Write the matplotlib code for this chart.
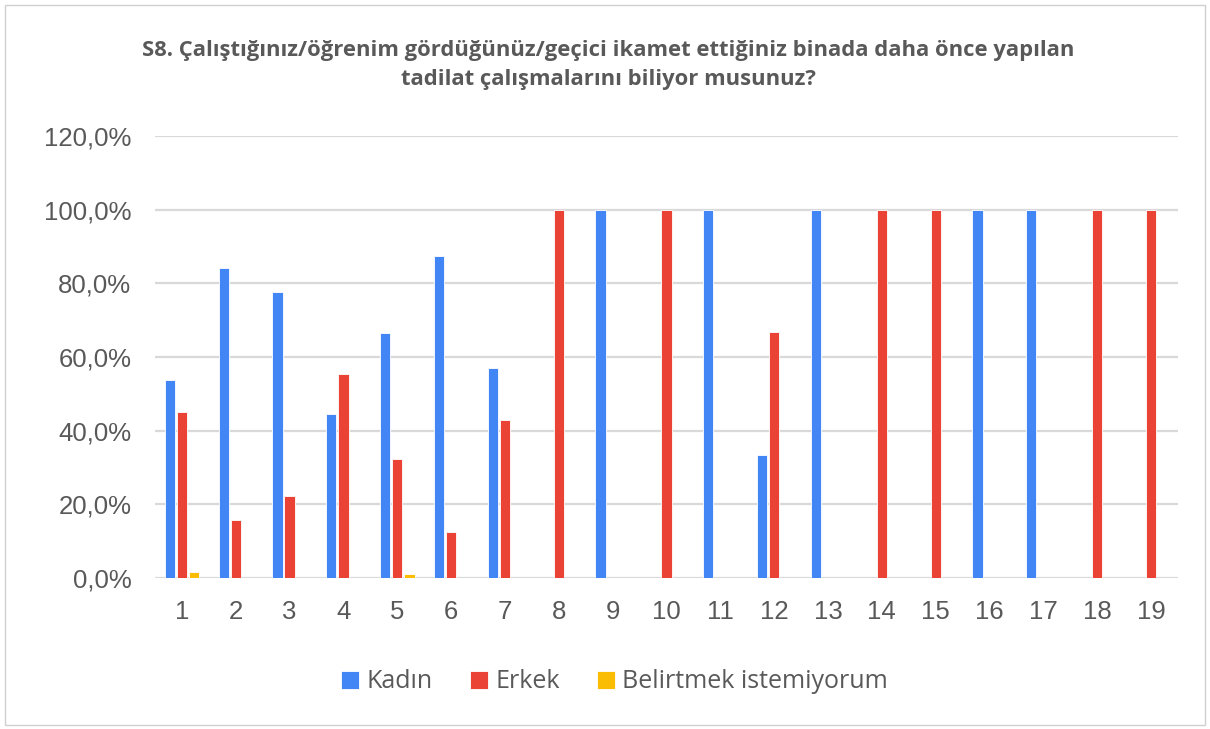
import numpy as np
import matplotlib.pyplot as plt
from matplotlib.patches import Rectangle

# Data (percent)
groups = [str(i) for i in range(1, 20)]
kadin = [53.8, 84.2, 77.7, 44.6, 66.6, 87.5, 57.1, 0, 100, 0, 100, 33.3, 100, 0, 0, 100, 100, 0, 0]
erkek = [45.1, 15.8, 22.3, 55.4, 32.3, 12.5, 42.9, 100, 0, 100, 0, 66.7, 0, 100, 100, 0, 0, 100, 100]
belirtmek = [1.6, 0, 0, 0, 1.1, 0, 0, 0, 0, 0, 0, 0, 0, 0, 0, 0, 0, 0, 0]
series_names = ['Kadın', 'Erkek', 'Belirtmek istemiyorum']
colors = ['#4285F4', '#EA4335', '#FBBC04']

plt.rcParams['font.family'] = ['Open Sans', 'DejaVu Sans']

fig = plt.figure(figsize=(12.1, 7.29), dpi=100)
ax = fig.add_axes([155 / 1210, 1 - 578 / 729, (1178 - 155) / 1210, (578 - 136) / 729])

x = np.arange(len(groups))
w = 0.19
step = 0.225
for i, (vals, name, c) in enumerate(zip([kadin, erkek, belirtmek], series_names, colors)):
    v = np.array(vals) / 100
    ax.bar(x + (i - 1) * step, v, width=w, color=c, label=name, zorder=3,
           edgecolor='white', linewidth=0.6)

ax.set_xlim(-0.5, len(groups) - 0.5)
ax.set_ylim(0, 1.2)
ax.set_yticks(np.arange(0, 1.21, 0.2))
ax.set_yticklabels([f'{t * 100:.1f}%'.replace('.', ',') for t in np.arange(0, 1.21, 0.2)])
ax.set_xticks(x)
ax.set_xticklabels(groups)
ax.tick_params(axis='both', length=0, labelsize=18.5, colors='#595959', labelfontfamily='Liberation Sans')
ax.tick_params(axis='x', pad=16)
ax.tick_params(axis='y', pad=17)
ax.grid(axis='y', color='#d9d9d9', linewidth=1.6, zorder=0)
for s in ax.spines.values():
    s.set_visible(False)

fig.text(0.503, 1 - 65 / 729, 'S8. Çalıştığınız/öğrenim gördüğünüz/geçici ikamet ettiğiniz binada daha önce yapılan\ntadilat çalışmalarını biliyor musunuz?',
         ha='center', va='center', fontsize=15.8, fontweight='bold', color='#595959', linespacing=1.55)

fig.legend(loc='center', bbox_to_anchor=(0.508, 1 - 682 / 729), ncol=3, frameon=False,
           fontsize=18, labelcolor='#595959', handlelength=0.7, handleheight=0.7,
           handletextpad=0.3, columnspacing=1.5)

fig.patches.append(Rectangle((5 / 1210, 4 / 729), 1200 / 1210, 720 / 729, transform=fig.transFigure,
                             fill=False, edgecolor='#d0d0d0', linewidth=1))

fig.savefig('out.png', dpi=100, facecolor='white')
